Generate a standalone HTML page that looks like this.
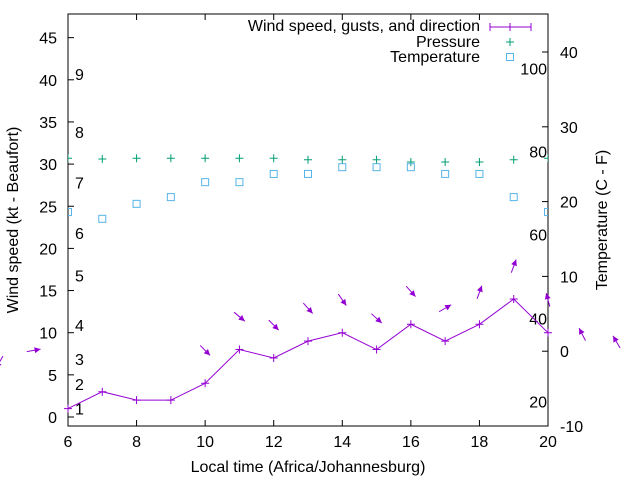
<!DOCTYPE html>
<html><head><meta charset="utf-8"><style>
body{margin:0;background:#fff}
svg{display:block;font-family:"Liberation Sans",sans-serif}
</style></head><body>
<svg id="chart" width="640" height="480" viewBox="0 0 640 480">
<g id="axes"></g><g id="marks"></g>
</svg>
<script>
const hours=[6,7,8,9,10,11,12,13,14,15,16,17,18,19,20];
const windSpeed=[1,3,2,2,4,8,7,9,10,8,11,9,11,14,10];
const pressureTemp=[25.8,25.7,25.8,25.8,25.8,25.8,25.8,25.6,25.6,25.6,25.3,25.3,25.3,25.6,25.8];
const temperature=[18.6,17.7,19.7,20.6,22.6,22.6,23.7,23.7,24.6,24.6,24.6,23.7,23.7,20.6,18.6];
const arrowHours=[4,5,10,11,12,13,14,15,16,17,18,19,20,21,22];
const gusts=[6.5,7.9,7.9,11.9,10.9,12.9,13.9,11.7,14.9,12.9,14.8,17.9,13.9,9.8,8.9];
const arrowAngle=[-120,10,-45,-40,-45,-48,-55,-42,-48,30,70,70,105,117,120];
const xTicks=[6,8,10,12,14,16,18,20];
const yTicks=[0,5,10,15,20,25,30,35,40,45];
const y2Ticks=[-10,0,10,20,30,40];
const beaufort=[[1,1],[2,3.9],[3,6.9],[4,10.9],[5,16.8],[6,21.8],[7,27.8],[8,33.8],[9,40.7]];
const fahr=[[20,-6.7],[40,4.4],[60,15.6],[80,26.7],[100,37.8]];
const L=68,R=548,T=14,B=426;
const X=h=>L+(h-6)*(R-L)/14;
const Y=v=>417-v*8.43;
const Y2=v=>351.2-v*7.48;
const NS='http://www.w3.org/2000/svg';
const FS=16;
const axes=document.getElementById('axes'),marks=document.getElementById('marks');
function mk(p,tag,at){const e=document.createElementNS(NS,tag);for(const k in at)e.setAttribute(k,at[k]);p.appendChild(e);return e;}
let e;
e=mk(axes,'rect',{x:L,y:T,width:R-L,height:B-T,fill:'none',stroke:'#000','stroke-width':1});


xTicks.forEach(h=>{
 mk(axes,'line',{x1:X(h),x2:X(h),y1:B,y2:B-6,stroke:'#000'});
 mk(axes,'line',{x1:X(h),x2:X(h),y1:T,y2:T+6,stroke:'#000'});
 e=mk(axes,'text',{x:X(h),y:B+21,'text-anchor':'middle','font-size':FS});e.textContent=h;
 
 
});
yTicks.forEach(v=>{
 mk(axes,'line',{x1:L,x2:L+6,y1:Y(v),y2:Y(v),stroke:'#000'});
 e=mk(axes,'text',{x:57,y:Y(v)+6,'text-anchor':'end','font-size':FS});e.textContent=v;
 
 
});
y2Ticks.forEach(v=>{
 mk(axes,'line',{x1:R,x2:R-6,y1:Y2(v),y2:Y2(v),stroke:'#000'});
 e=mk(axes,'text',{x:560,y:Y2(v)+6,'font-size':FS});e.textContent=v;
 
 
});
beaufort.forEach(b=>{e=mk(axes,'text',{x:75,y:Y(b[1])+6,'font-size':FS});e.textContent=b[0];
 
 });
fahr.forEach(f=>{e=mk(axes,'text',{x:547,y:Y2(f[1])+6,'font-size':FS,'text-anchor':'end'});e.textContent=f[0];
 
 });
e=mk(axes,'text',{x:308,y:472,'text-anchor':'middle','font-size':FS});e.textContent='Local time (Africa/Johannesburg)';


e=mk(axes,'text',{x:0,y:0,'text-anchor':'middle','font-size':FS,transform:'translate(18,220) rotate(-90)'});e.textContent='Wind speed (kt - Beaufort)';


e=mk(axes,'text',{x:0,y:0,'text-anchor':'middle','font-size':FS,transform:'translate(607,220) rotate(-90)'});e.textContent='Temperature (C - F)';


e=mk(marks,'polyline',{points:hours.map((h,i)=>X(h)+','+Y(windSpeed[i])).join(' '),fill:'none',stroke:'#9400d3'});


hours.forEach((h,i)=>{const x=X(h),y=Y(windSpeed[i]);
 e=mk(marks,'path',{d:`M${x-4},${y}H${x+4}M${x},${y-4}V${y+4}`,stroke:'#9400d3'});
 
 
});
arrowHours.forEach((h,i)=>{const cx=X(h),cy=Y(gusts[i]),a=arrowAngle[i]*Math.PI/180;
 const dx=Math.cos(a),dy=-Math.sin(a),l=7;
 const tx=cx+dx*l,ty=cy+dy*l,sx=cx-dx*l,sy=cy-dy*l;
 const px=-dy,py=dx;
 e=mk(marks,'g',{});
 
 
 mk(e,'line',{x1:sx,y1:sy,x2:tx,y2:ty,stroke:'#9400d3'});
 mk(e,'polygon',{points:`${tx},${ty} ${tx-dx*6+px*3},${ty-dy*6+py*3} ${tx-dx*6-px*3},${ty-dy*6-py*3}`,fill:'#9400d3'});
});
const cp=mk(marks,'clipPath',{id:'cp'});
mk(cp,'rect',{x:L,y:T,width:R-L,height:B-T});
const cg=mk(marks,'g',{'clip-path':'url(#cp)'});
hours.forEach((h,i)=>{const x=X(h),y=Y2(pressureTemp[i]);
 e=mk(cg,'path',{d:`M${x-4},${y}H${x+4}M${x},${y-4}V${y+4}`,stroke:'#009e73'});
 
 
 const ty=Y2(temperature[i]);
 e=mk(cg,'rect',{x:x-3.5,y:ty-3.5,width:7,height:7,fill:'none',stroke:'#56b4e9'});
 
 
});
const lg=mk(axes,'g',{});


[['Wind speed, gusts, and direction',31],['Pressure',47],['Temperature',62]].forEach(r=>{
 e=mk(lg,'text',{x:480,y:r[1],'text-anchor':'end','font-size':FS});e.textContent=r[0];
 
 
});
mk(lg,'path',{d:'M490,27H531M490,23V31M531,23V31M510,23V31',stroke:'#9400d3',fill:'none'});
mk(lg,'path',{d:'M506,42H514M510,38V46',stroke:'#009e73'});
mk(lg,'rect',{x:506.5,y:53.5,width:7,height:7,fill:'none',stroke:'#56b4e9'});
</script>
</body></html>
